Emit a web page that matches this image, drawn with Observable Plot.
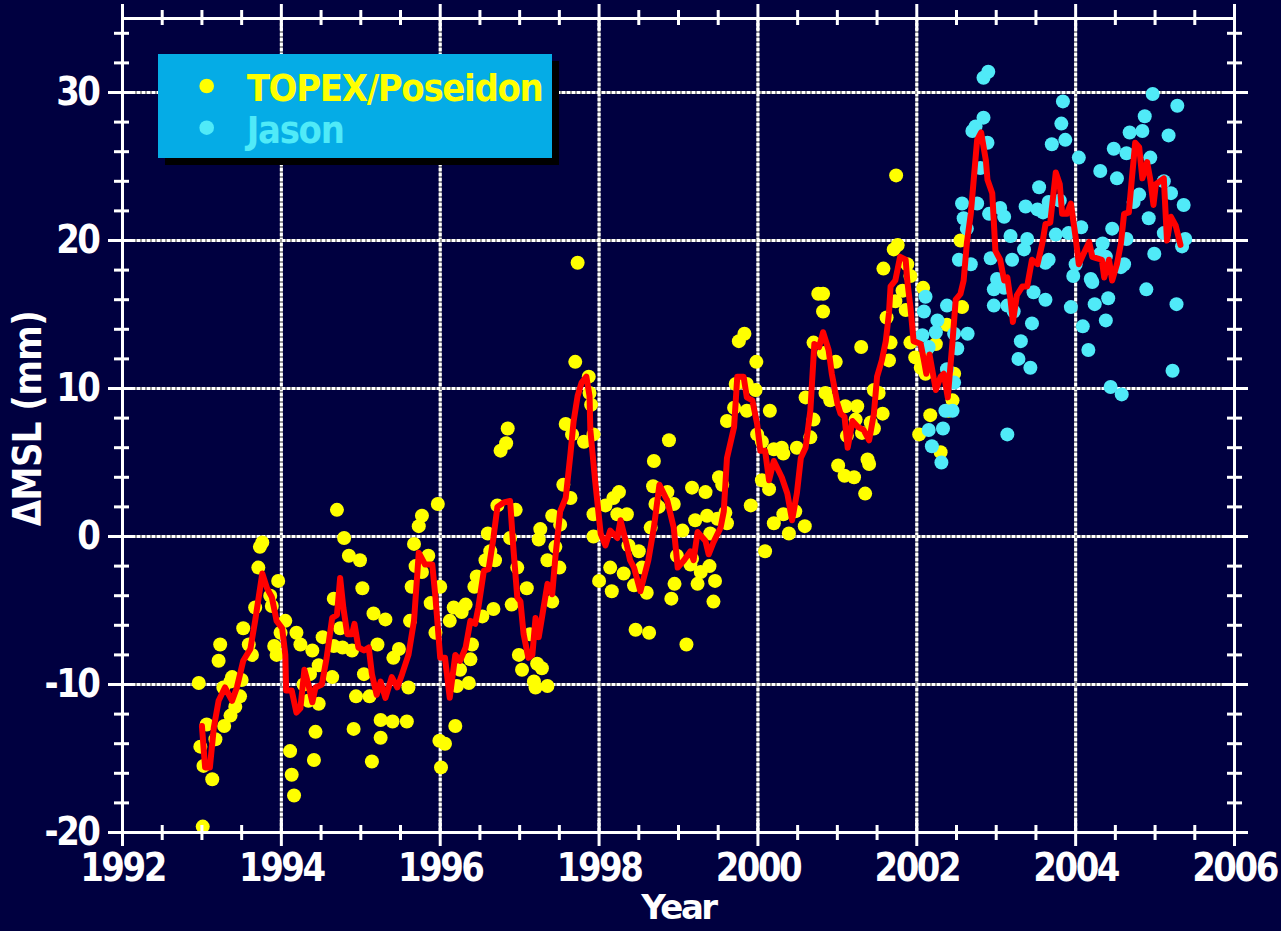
<!DOCTYPE html>
<html><head><meta charset="utf-8">
<script src="https://cdn.jsdelivr.net/npm/d3@7"></script>
<script src="https://cdn.jsdelivr.net/npm/@observablehq/plot@0.6"></script>
<style>
html,body{margin:0;padding:0;background:#000040;}
#wrap{position:relative;width:1281px;height:931px;overflow:hidden;background:#000040;}
#legend{position:absolute;left:158px;top:54px;width:394px;height:104px;background:#05ace6;box-shadow:7px 7px 0 #000;}
#legend svg{display:block;overflow:visible;}
</style></head>
<body><div id="wrap"><div id="chart"></div><div id="legend"></div></div>
<script>
// ---------- data (year, ΔMSL mm) ----------
const seriesNames = ["TOPEX/Poseidon", "Jason"];
const seriesColors = ["#ffff00", "#50eaf8"];
const xTickLabels = [1992, 1994, 1996, 1998, 2000, 2002, 2004, 2006];
const yTickLabels = [-20, -10, 0, 10, 20, 30];
const gridYears = [1994, 1996, 1998, 2000, 2002, 2004];
const gridMM = [-10, 0, 10, 20, 30];

const topex = [[1992.96,-9.9],[1993.01,-19.6],[1992.98,-14.2],[1993.02,-15.5],[1993.06,-12.7],[1993.13,-16.4],[1993.17,-13.7],[1993.21,-8.4],[1993.23,-7.3],[1993.27,-10.2],[1993.28,-12.8],[1993.36,-12.1],[1993.36,-9.8],[1993.38,-9.5],[1993.42,-11.5],[1993.48,-10.8],[1993.50,-9.7],[1993.52,-6.2],[1993.59,-7.3],[1993.63,-8.0],[1993.67,-4.8],[1993.71,-2.1],[1993.73,-0.7],[1993.76,-0.4],[1993.86,-4.0],[1993.88,-4.7],[1993.96,-3.0],[1993.91,-7.4],[1993.94,-8.0],[1993.99,-6.5],[1994.05,-5.7],[1994.11,-14.5],[1994.13,-16.1],[1994.16,-17.5],[1994.19,-6.5],[1994.24,-7.3],[1994.28,-10.0],[1994.34,-11.1],[1994.36,-9.3],[1994.39,-7.7],[1994.43,-13.2],[1994.41,-15.1],[1994.47,-8.7],[1994.47,-11.3],[1994.52,-6.8],[1994.64,-9.5],[1994.66,-7.4],[1994.66,-4.2],[1994.70,1.8],[1994.74,-6.2],[1994.77,-7.5],[1994.79,-0.1],[1994.85,-1.3],[1994.89,-7.7],[1994.91,-13.0],[1994.94,-10.8],[1994.99,-1.6],[1995.02,-3.5],[1995.04,-9.3],[1995.11,-10.8],[1995.14,-15.2],[1995.16,-5.2],[1995.21,-7.3],[1995.25,-12.4],[1995.25,-13.6],[1995.31,-5.6],[1995.40,-12.5],[1995.41,-8.2],[1995.48,-7.6],[1995.58,-12.5],[1995.60,-10.2],[1995.62,-5.7],[1995.64,-3.4],[1995.67,-0.5],[1995.69,-2.0],[1995.73,0.7],[1995.77,1.4],[1995.77,-2.4],[1995.85,-1.3],[1995.88,-4.5],[1995.94,-6.5],[1995.97,2.2],[1996.00,-3.4],[1995.99,-13.8],[1996.06,-14.0],[1996.01,-15.6],[1996.12,-5.7],[1996.17,-4.8],[1996.19,-12.8],[1996.21,-10.1],[1996.25,-9.0],[1996.27,-5.1],[1996.32,-4.6],[1996.36,-9.9],[1996.38,-8.3],[1996.40,-7.3],[1996.43,-3.4],[1996.46,-2.7],[1996.53,-5.4],[1996.57,-1.6],[1996.60,0.2],[1996.63,-1.0],[1996.67,-4.9],[1996.69,-1.6],[1996.72,2.1],[1996.76,5.8],[1996.83,6.3],[1996.85,7.3],[1996.88,-0.1],[1996.90,-4.6],[1996.95,1.8],[1996.97,-2.1],[1996.99,-8.0],[1997.03,-9.0],[1997.09,-3.5],[1997.13,-6.6],[1997.18,-9.8],[1997.20,-10.2],[1997.22,-8.6],[1997.24,-0.2],[1997.26,0.5],[1997.28,-8.9],[1997.35,-10.1],[1997.35,-1.6],[1997.41,-4.4],[1997.41,1.4],[1997.45,-0.7],[1997.50,-2.1],[1997.51,0.8],[1997.55,3.5],[1997.64,2.6],[1997.58,7.6],[1997.66,6.9],[1997.70,11.8],[1997.73,18.5],[1997.81,6.4],[1997.87,10.8],[1997.88,9.7],[1997.90,8.9],[1997.93,6.9],[1997.93,1.5],[1997.93,0.0],[1998.00,-3.0],[1998.08,2.1],[1998.14,-2.1],[1998.16,-3.7],[1998.18,2.6],[1998.23,1.5],[1998.25,3.0],[1998.31,-2.5],[1998.35,1.5],[1998.37,-0.6],[1998.44,-3.3],[1998.46,-6.3],[1998.50,-1.0],[1998.54,-2.1],[1998.60,-3.8],[1998.63,-6.5],[1998.65,0.6],[1998.68,3.4],[1998.69,5.1],[1998.71,2.2],[1998.75,2.0],[1998.86,3.0],[1998.88,6.5],[1998.91,-4.2],[1998.94,2.2],[1998.95,-3.2],[1998.98,-1.3],[1999.05,0.4],[1999.10,-7.3],[1999.15,-1.9],[1999.17,3.3],[1999.17,-1.5],[1999.21,1.1],[1999.24,-3.2],[1999.28,-2.4],[1999.34,3.0],[1999.36,1.4],[1999.39,-2.0],[1999.40,0.2],[1999.44,-4.4],[1999.46,-3.0],[1999.49,1.2],[1999.51,4.0],[1999.55,3.5],[1999.59,1.6],[1999.61,0.9],[1999.61,7.8],[1999.70,8.7],[1999.72,10.3],[1999.76,13.2],[1999.83,13.7],[1999.86,10.3],[1999.86,8.5],[1999.91,2.1],[1999.97,9.9],[1999.98,11.8],[1999.99,6.9],[2000.05,6.4],[2000.05,3.8],[2000.09,-1.0],[2000.14,3.2],[2000.15,8.5],[2000.20,5.9],[2000.20,0.9],[2000.30,6.0],[2000.32,5.6],[2000.32,1.5],[2000.39,0.2],[2000.47,1.7],[2000.49,6.0],[2000.59,0.7],[2000.60,9.4],[2000.66,6.7],[2000.70,7.9],[2000.70,13.1],[2000.76,16.4],[2000.82,16.4],[2000.82,15.2],[2000.83,12.4],[2000.85,9.7],[2000.91,9.2],[2000.98,11.8],[2001.01,4.8],[2001.09,4.1],[2001.10,8.8],[2001.12,6.8],[2001.21,4.0],[2001.23,7.9],[2001.25,8.8],[2001.30,12.8],[2001.31,7.0],[2001.35,2.9],[2001.38,5.2],[2001.40,4.9],[2001.42,7.7],[2001.46,7.3],[2001.46,9.9],[2001.52,9.7],[2001.57,8.3],[2001.58,18.1],[2001.62,14.8],[2001.65,11.9],[2001.67,13.1],[2001.71,19.4],[2001.73,15.9],[2001.74,24.4],[2001.76,19.7],[2001.82,16.6],[2001.86,15.3],[2001.88,18.4],[2001.92,17.6],[2001.92,13.1],[2001.98,12.1],[2002.03,6.9],[2002.05,11.4],[2002.08,16.8],[2002.11,11.0],[2002.12,12.6],[2002.17,8.2],[2002.24,13.0],[2002.30,5.7],[2002.38,14.3],[2002.40,8.5],[2002.45,9.2],[2002.47,11.0],[2002.55,20.0],[2002.57,15.5]];

const jason = [[2002.07,13.6],[2002.09,15.2],[2002.11,16.2],[2002.15,12.8],[2002.15,7.2],[2002.19,6.1],[2002.24,13.8],[2002.26,14.6],[2002.31,5.0],[2002.33,7.3],[2002.36,8.5],[2002.38,15.6],[2002.38,11.3],[2002.45,8.5],[2002.47,13.7],[2002.47,10.4],[2002.51,12.7],[2002.53,18.7],[2002.57,22.5],[2002.59,21.5],[2002.63,20.8],[2002.64,13.7],[2002.68,18.4],[2002.70,27.4],[2002.74,27.7],[2002.76,22.5],[2002.80,24.9],[2002.84,28.3],[2002.84,31.0],[2002.90,31.4],[2002.89,26.6],[2002.91,21.8],[2002.93,18.8],[2002.97,16.7],[2002.97,15.6],[2003.01,17.4],[2003.05,22.2],[2003.10,21.6],[2003.10,16.8],[2003.14,15.6],[2003.14,6.9],[2003.18,20.3],[2003.20,18.7],[2003.22,15.2],[2003.28,12.0],[2003.31,13.2],[2003.35,19.4],[2003.37,22.3],[2003.39,20.1],[2003.43,11.4],[2003.45,14.4],[2003.47,16.5],[2003.52,22.1],[2003.54,23.6],[2003.59,21.9],[2003.62,16.0],[2003.62,18.5],[2003.66,18.7],[2003.66,22.6],[2003.70,26.5],[2003.75,20.4],[2003.80,22.7],[2003.82,27.9],[2003.84,29.4],[2003.87,26.8],[2003.91,20.5],[2003.94,15.5],[2003.97,17.6],[2004.00,18.4],[2004.04,25.6],[2004.07,20.9],[2004.09,14.2],[2004.16,12.6],[2004.19,17.4],[2004.21,17.2],[2004.24,15.7],[2004.31,24.7],[2004.31,19.1],[2004.34,19.8],[2004.38,18.9],[2004.38,14.6],[2004.41,16.1],[2004.44,10.1],[2004.46,20.8],[2004.48,26.2],[2004.52,24.2],[2004.57,18.2],[2004.58,9.6],[2004.61,18.4],[2004.64,25.9],[2004.64,20.1],[2004.68,27.3],[2004.73,22.6],[2004.80,23.1],[2004.84,27.4],[2004.87,28.4],[2004.89,16.7],[2004.92,21.5],[2004.94,25.6],[2004.97,29.9],[2004.99,19.1],[2005.11,24.0],[2005.11,20.5],[2005.17,27.1],[2005.20,23.2],[2005.22,11.2],[2005.27,15.7],[2005.28,29.1],[2005.34,19.6],[2005.36,22.4],[2005.38,20.1]];

const smoothedMSL = [[1993.00,-12.8],[1993.04,-15.6],[1993.10,-15.6],[1993.15,-12.9],[1993.21,-11.1],[1993.29,-10.2],[1993.38,-11.1],[1993.44,-10.2],[1993.52,-8.4],[1993.61,-7.6],[1993.67,-5.7],[1993.76,-2.5],[1993.82,-3.5],[1993.88,-4.1],[1993.94,-5.7],[1994.01,-6.2],[1994.05,-8.0],[1994.06,-10.4],[1994.13,-10.4],[1994.19,-11.9],[1994.24,-11.6],[1994.29,-9.0],[1994.34,-10.0],[1994.39,-11.2],[1994.43,-10.2],[1994.51,-10.0],[1994.57,-8.2],[1994.64,-5.5],[1994.70,-5.3],[1994.74,-2.8],[1994.78,-4.8],[1994.83,-6.6],[1994.89,-6.6],[1994.92,-5.9],[1994.97,-7.5],[1995.04,-7.7],[1995.10,-7.5],[1995.14,-9.3],[1995.20,-10.7],[1995.25,-9.8],[1995.31,-10.9],[1995.39,-9.5],[1995.46,-10.2],[1995.52,-9.3],[1995.60,-8.0],[1995.67,-5.7],[1995.73,-1.1],[1995.81,-1.9],[1995.90,-1.9],[1995.94,-4.1],[1995.98,-6.8],[1996.00,-8.2],[1996.06,-8.2],[1996.12,-10.9],[1996.19,-8.0],[1996.25,-8.4],[1996.32,-7.5],[1996.38,-5.7],[1996.44,-5.9],[1996.48,-4.8],[1996.55,-2.3],[1996.61,-2.2],[1996.67,-0.1],[1996.72,2.0],[1996.80,2.3],[1996.88,2.4],[1996.92,-0.7],[1996.97,-4.1],[1997.01,-4.4],[1997.05,-6.6],[1997.11,-8.2],[1997.16,-8.0],[1997.20,-5.5],[1997.24,-6.8],[1997.28,-5.5],[1997.35,-3.2],[1997.41,-3.9],[1997.45,-1.4],[1997.51,1.7],[1997.58,2.6],[1997.64,5.6],[1997.68,7.8],[1997.73,9.5],[1997.78,10.4],[1997.84,10.8],[1997.88,9.5],[1997.89,7.2],[1997.95,3.8],[1998.02,0.2],[1998.08,-0.6],[1998.14,0.4],[1998.23,-0.1],[1998.27,1.1],[1998.35,-0.6],[1998.39,-1.6],[1998.44,-2.1],[1998.52,-3.7],[1998.62,-1.6],[1998.69,0.6],[1998.76,3.5],[1998.86,2.4],[1998.94,0.6],[1998.99,-2.1],[1999.07,-1.6],[1999.15,-1.0],[1999.19,-1.6],[1999.24,0.3],[1999.34,-0.3],[1999.38,-1.2],[1999.44,-0.4],[1999.53,0.6],[1999.57,1.7],[1999.61,5.3],[1999.70,7.4],[1999.74,10.8],[1999.82,10.8],[1999.86,9.4],[1999.93,9.2],[1999.99,7.6],[2000.03,5.8],[2000.09,5.8],[2000.14,3.8],[2000.20,5.1],[2000.30,4.0],[2000.37,2.9],[2000.43,1.1],[2000.49,2.9],[2000.54,5.3],[2000.60,6.0],[2000.66,8.5],[2000.71,13.0],[2000.77,12.8],[2000.82,13.8],[2000.89,12.6],[2000.93,11.0],[2001.00,9.0],[2001.04,8.3],[2001.09,8.1],[2001.13,6.0],[2001.19,7.8],[2001.26,7.4],[2001.33,7.2],[2001.40,6.5],[2001.46,8.3],[2001.50,10.8],[2001.56,11.9],[2001.61,13.2],[2001.65,15.1],[2001.67,16.9],[2001.73,17.3],[2001.79,18.9],[2001.86,18.7],[2001.88,17.3],[2001.92,15.5],[2001.96,13.2],[2002.05,13.0],[2002.09,11.9],[2002.12,11.0],[2002.16,12.3],[2002.24,9.9],[2002.30,10.8],[2002.34,11.0],[2002.39,9.4],[2002.45,13.2],[2002.49,16.0],[2002.55,16.4],[2002.59,17.3],[2002.63,19.8],[2002.68,21.8],[2002.72,24.3],[2002.76,26.8],[2002.81,27.3],[2002.87,25.4],[2002.89,24.1],[2002.95,23.2],[2002.99,19.3],[2003.05,18.7],[2003.10,17.3],[2003.14,17.5],[2003.18,16.0],[2003.21,14.5],[2003.26,16.3],[2003.33,16.9],[2003.39,16.9],[2003.45,18.7],[2003.52,18.4],[2003.58,19.8],[2003.62,21.1],[2003.68,21.2],[2003.75,24.6],[2003.80,23.8],[2003.83,21.8],[2003.89,21.8],[2003.94,22.5],[2004.00,20.2],[2004.04,18.4],[2004.10,19.1],[2004.17,19.9],[2004.21,18.9],[2004.27,18.8],[2004.33,18.7],[2004.36,17.5],[2004.42,18.7],[2004.46,17.3],[2004.52,18.4],[2004.57,19.8],[2004.61,21.8],[2004.67,21.9],[2004.71,24.3],[2004.75,26.6],[2004.80,26.3],[2004.84,24.2],[2004.90,25.3],[2004.94,24.1],[2004.98,22.4],[2005.01,23.8],[2005.11,24.2],[2005.15,20.0],[2005.20,21.6],[2005.26,21.0],[2005.32,19.7]];

// ---------- layout ----------
const FONT = "'DejaVu Sans', Verdana, Tahoma, sans-serif";
const W = 1281, H = 931, ML = 122, MR = 47, MT = 18, MB = 99;
const PW = W - ML - MR, PH = H - MT - MB;
const xMinor = d3.range(1992, 2006.01, 0.5).filter(v => v % 2 !== 0);
const yMinor = d3.range(-20, 35.01, 2).filter(v => v % 10 !== 0);

function ticksX(vals, inLen, outLen) {
  const st = {x: d => d, stroke: "white", strokeWidth: 3};
  return [
    Plot.tickX(vals, {...st, insetTop: PH - inLen, insetBottom: -outLen}),
    Plot.tickX(vals, {...st, insetTop: -outLen, insetBottom: PH - inLen})
  ];
}
function ticksY(vals, inLen, outLen) {
  const st = {y: d => d, stroke: "white", strokeWidth: 3};
  return [
    Plot.tickY(vals, {...st, insetLeft: -outLen, insetRight: PW - inLen}),
    Plot.tickY(vals, {...st, insetLeft: PW - inLen, insetRight: -outLen})
  ];
}
const txt = {fill: "white", fontSize: 34, fontWeight: "bold", fontFamily: FONT, lineAnchor: "middle"};

const chart = Plot.plot({
  width: W, height: H,
  marginLeft: ML, marginRight: MR, marginTop: MT, marginBottom: MB,
  style: {background: "#000040", overflow: "visible"},
  x: {domain: [1992, 2006], axis: null},
  y: {domain: [-20, 35], axis: null},
  marks: [
    Plot.ruleX(gridYears, {x: d => d, stroke: "#9a9a9a", strokeWidth: 3}),
    Plot.ruleX(gridYears, {x: d => d, stroke: "#ffffff", strokeWidth: 3, strokeDasharray: "3,2"}),
    Plot.ruleY(gridMM, {y: d => d, stroke: "#9a9a9a", strokeWidth: 3}),
    Plot.ruleY(gridMM, {y: d => d, stroke: "#ffffff", strokeWidth: 3, strokeDasharray: "3,2"}),
    Plot.dot(topex, {x: d => d[0], y: d => d[1], r: 7, fill: seriesColors[0]}),
    Plot.dot(jason, {x: d => d[0], y: d => d[1], r: 7, fill: seriesColors[1]}),
    Plot.line(smoothedMSL, {x: d => d[0], y: d => d[1], stroke: "#ff0000", strokeWidth: 6}),
    Plot.frame({stroke: "white", strokeWidth: 3}),
    ...ticksX(xTickLabels, 12, 14),
    ...ticksX(xMinor, 7, 8),
    ...ticksY(yTickLabels, 12, 14),
    ...ticksY(yMinor, 7, 8),
    Plot.text(xTickLabels, {x: d => d, frameAnchor: "bottom", dy: 36, textAnchor: "middle", text: d => String(d), ...txt}),
    Plot.text(yTickLabels, {y: d => d, frameAnchor: "left", dx: -24, textAnchor: "end", text: d => String(d), ...txt}),
    Plot.text(["Year"], {frameAnchor: "bottom", dy: 76, textAnchor: "middle", text: d => d, ...txt}),
    Plot.text(["ΔMSL (mm)"], {frameAnchor: "left", dx: -94, dy: -7, rotate: -90, textAnchor: "middle", text: d => d, ...txt})
  ]
});
document.getElementById("chart").appendChild(chart);

// stretch text vertically & tighten (original font is taller/narrower)
d3.select(chart).selectAll("text").each(function() {
  const s = this.textContent;
  const t = this.getAttribute("transform");
  if (t && s !== "Year") this.setAttribute("transform", t + " scale(1,1.15)");
  this.style.letterSpacing = s.indexOf("MSL") >= 0 ? "-0.5px" : "-2.5px";
});

// ---------- legend ----------
const leg = d3.select("#legend").append("svg").attr("width", 394).attr("height", 104);
const rows = [{dotY: 32, base: 47}, {dotY: 73.7, base: 89}];
seriesNames.forEach((name, i) => {
  leg.append("circle").attr("cx", 48.7).attr("cy", rows[i].dotY).attr("r", 7.3).attr("fill", seriesColors[i]);
  leg.append("text")
    .attr("transform", `translate(88.7,${rows[i].base}) scale(1,1.1)`)
    .attr("fill", seriesColors[i])
    .style("font-family", FONT).style("font-weight", "bold").style("font-size", "34px")
    .style("letter-spacing", "-1.3px")
    .text(name);
});
</script></body></html>
